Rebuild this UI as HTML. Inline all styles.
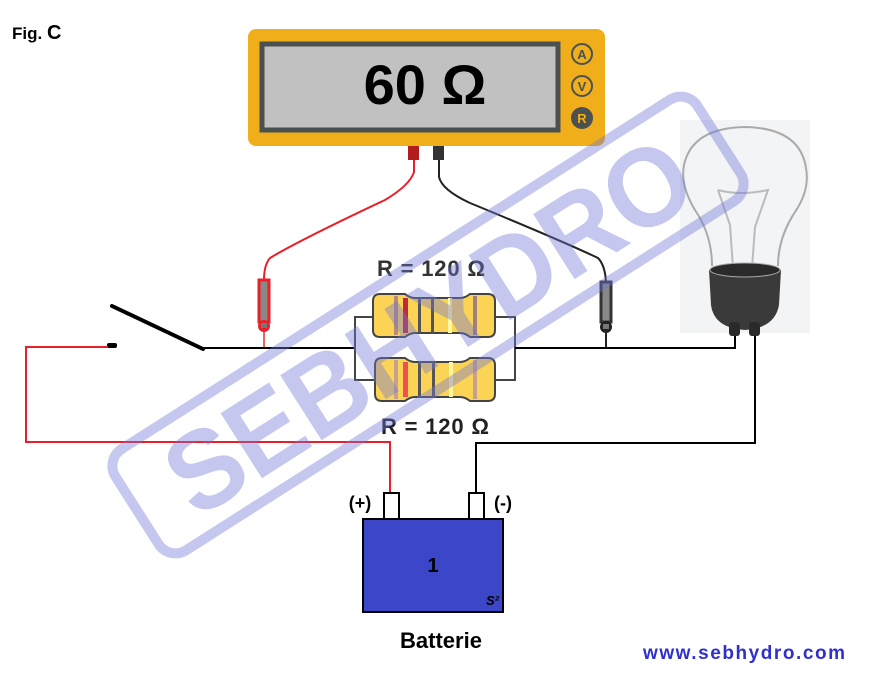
<!DOCTYPE html>
<html><head><meta charset="utf-8"><style>
html,body{margin:0;padding:0;background:#fff;width:873px;height:675px;overflow:hidden}
text{font-family:"Liberation Sans",sans-serif;font-weight:bold}
</style></head><body>
<svg width="873" height="675" viewBox="0 0 873 675" xmlns="http://www.w3.org/2000/svg">
<text x="12" y="39" font-size="17" fill="#000">Fig. <tspan font-size="20">C</tspan></text>
<!-- bulb bg -->
<rect x="680" y="120" width="130" height="213" fill="#f3f4f6"/>
<!-- meter -->
<rect x="248" y="29" width="357" height="117" rx="8" fill="#f0ae1a"/>
<rect x="262" y="44" width="296" height="86" fill="#c1c1c1" stroke="#4b5050" stroke-width="5"/>
<text x="425" y="104" font-size="56" text-anchor="middle" fill="#000">60 Ω</text>
<circle cx="582" cy="54" r="10" fill="none" stroke="#4b5050" stroke-width="2"/>
<text x="582" y="59" font-size="13" text-anchor="middle" fill="#4b5050" font-weight="normal">A</text>
<circle cx="582" cy="86" r="10" fill="none" stroke="#4b5050" stroke-width="2"/>
<text x="582" y="91" font-size="13" text-anchor="middle" fill="#4b5050" font-weight="normal">V</text>
<circle cx="582" cy="118" r="11" fill="#4b5050"/>
<text x="582" y="123" font-size="13" text-anchor="middle" fill="#f0ae1a">R</text>
<rect x="408" y="146" width="11" height="14" fill="#b31c1c"/>
<rect x="433" y="146" width="11" height="14" fill="#333"/>
<!-- probe wires -->
<path d="M414 160 L414 172 Q410 185 385 200 Q300 240 270 258 Q264 265 264 280" fill="none" stroke="#e8202a" stroke-width="2"/>
<path d="M439 160 L439 177 Q442 190 470 203 Q560 240 598 258 Q605 265 606 282" fill="none" stroke="#222" stroke-width="2"/>
<rect x="259" y="280" width="10" height="42" fill="#888" stroke="#e8202a" stroke-width="3"/>
<circle cx="264" cy="326" r="6" fill="#e8202a"/><rect x="261" y="323" width="6" height="5" fill="#777"/>
<line x1="264" y1="332" x2="264" y2="348" stroke="#f06060" stroke-width="2"/>
<rect x="601" y="282" width="10" height="40" fill="#888" stroke="#333" stroke-width="3"/>
<circle cx="606" cy="327" r="6" fill="#222"/><rect x="603" y="324" width="6" height="5" fill="#777"/>
<line x1="606" y1="333" x2="606" y2="348" stroke="#222" stroke-width="2"/>
<!-- circuit wires -->
<line x1="112" y1="306" x2="203" y2="349" stroke="#000" stroke-width="4" stroke-linecap="round"/>
<rect x="107" y="343" width="10" height="5" rx="2" fill="#000"/>
<line x1="203" y1="348" x2="355" y2="348" stroke="#000" stroke-width="2"/>
<path d="M372 317 H355 V380 H374" fill="none" stroke="#444" stroke-width="2"/>
<path d="M495 317 H515 V380 H495" fill="none" stroke="#444" stroke-width="2"/>
<path d="M515 348 H735 V335" fill="none" stroke="#000" stroke-width="2"/>
<path d="M108 347 H26 V442 H390 V493" fill="none" stroke="#e8202a" stroke-width="2"/>
<path d="M755 335 V443 H476 V493" fill="none" stroke="#000" stroke-width="2"/>
<!-- resistors -->
<g stroke="#444" stroke-width="2">
<path d="M380 294 H405 Q410 298 415 298 H460 Q465 298 470 294 H488 Q495 294 495 301 V330 Q495 337 488 337 H470 Q465 333 460 333 H415 Q410 333 405 337 H380 Q373 337 373 330 V301 Q373 294 380 294 Z" fill="#fcd455"/>
<path d="M382 358 H405 Q410 362 415 362 H460 Q465 362 470 358 H488 Q495 358 495 365 V394 Q495 401 488 401 H470 Q465 397 460 397 H415 Q410 397 405 401 H382 Q375 401 375 394 V365 Q375 358 382 358 Z" fill="#fcd455"/>
</g>
<rect x="394" y="296" width="4" height="39" fill="#b98a7a"/><rect x="403" y="298" width="5" height="35" fill="#c0283c"/>
<rect x="418" y="298" width="3" height="35" fill="#555"/><rect x="431" y="298" width="3" height="35" fill="#555"/>
<rect x="448" y="298" width="4" height="35" fill="#fff8a0"/><rect x="473" y="296" width="4" height="39" fill="#a08080"/>
<rect x="394" y="360" width="4" height="39" fill="#c8a090"/><rect x="403" y="362" width="5" height="35" fill="#f05050"/>
<rect x="418" y="362" width="3" height="35" fill="#555"/><rect x="432" y="362" width="3" height="35" fill="#555"/>
<rect x="449" y="362" width="4" height="35" fill="#fff8a0"/><rect x="473" y="360" width="4" height="39" fill="#c8a090"/>
<text x="431" y="276" font-size="22" text-anchor="middle" fill="#333" textLength="108">R = 120 Ω</text>
<text x="435" y="434" font-size="22" text-anchor="middle" fill="#222" textLength="108">R = 120 Ω</text>
<!-- bulb -->
<path d="M712 266 Q712 235 695 210 Q680 185 684 165 Q692 128 745 127 Q800 128 806 168 Q810 190 795 212 Q778 238 778 266" fill="none" stroke="#aaa" stroke-width="2"/>
<path d="M718 190 Q740 196 768 190 L755 227 L752 268 M718 190 L730 225 L733 268" fill="none" stroke="#bbb" stroke-width="2"/>
<path d="M709 270 Q745 258 781 270 L779 305 Q775 328 745 330 Q714 328 711 305 Z" fill="#3a3a3a"/>
<ellipse cx="745" cy="270" rx="35" ry="7" fill="#2a2a2a" stroke="#aaa" stroke-width="1"/>
<rect x="729" y="322" width="11" height="14" rx="3" fill="#2a2a2a"/><rect x="749" y="322" width="11" height="14" rx="3" fill="#2a2a2a"/>
<!-- battery -->
<rect x="384" y="493" width="15" height="26" fill="#fff" stroke="#000" stroke-width="2"/>
<rect x="469" y="493" width="15" height="26" fill="#fff" stroke="#000" stroke-width="2"/>
<rect x="363" y="519" width="140" height="93" fill="#3c46c8" stroke="#000" stroke-width="2"/>
<text x="433" y="572" font-size="20" text-anchor="middle" fill="#000">1</text>
<text x="486" y="605" font-size="13" font-style="italic" fill="#000">S²</text>
<text x="360" y="509" font-size="18" text-anchor="middle" fill="#000">(+)</text>
<text x="503" y="509" font-size="18" text-anchor="middle" fill="#000">(-)</text>
<text x="441" y="648" font-size="22" text-anchor="middle" fill="#000">Batterie</text>
<text x="744" y="659" font-size="19" text-anchor="middle" fill="#3030d0" textLength="202">www.sebhydro.com</text>
<!-- watermark -->
<g transform="translate(428,325) rotate(-32.5)" opacity="0.4">
<rect x="-345" y="-60" width="690" height="120" rx="20" fill="none" stroke="#6f76d8" stroke-width="10"/>
<text x="0" y="40" font-size="112" text-anchor="middle" fill="#6f76d8" textLength="600" lengthAdjust="spacingAndGlyphs">SEBHYDRO</text>
</g>
</svg>
</body></html>
